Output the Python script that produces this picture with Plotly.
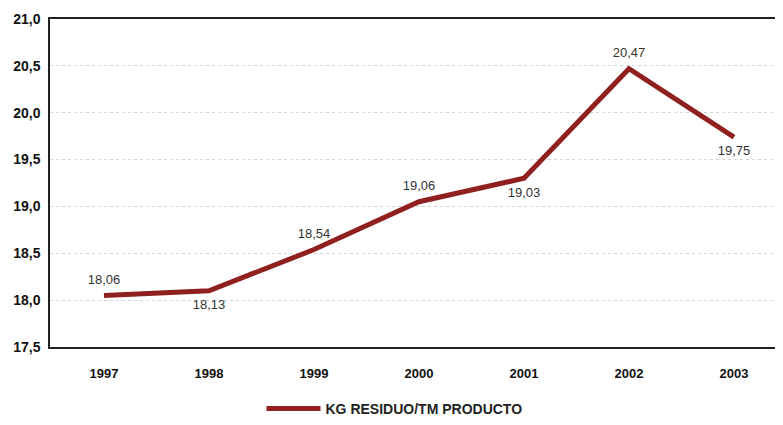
import plotly.graph_objects as go

years = ["1997", "1998", "1999", "2000", "2001", "2002", "2003"]
values = [18.05, 18.10, 18.54, 19.05, 19.30, 20.47, 19.74]
labels = ["18,06", "18,13", "18,54", "19,06", "19,03", "20,47", "19,75"]
label_pos = ["top center", "bottom center", "top center", "top center",
             "bottom center", "top center", "bottom center"]
y_ticks = [17.5, 18.0, 18.5, 19.0, 19.5, 20.0, 20.5, 21.0]
y_tick_text = ["17,5", "18,0", "18,5", "19,0", "19,5", "20,0", "20,5", "21,0"]
series_name = "KG RESIDUO/TM PRODUCTO"

xs = list(range(len(years)))

fig = go.Figure()
fig.add_trace(go.Scatter(
    x=xs, y=values, mode="lines+markers+text", name="<b>%s</b>" % series_name,
    line=dict(color="#902020", width=5),
    marker=dict(size=12, color="rgba(0,0,0,0)"),
    text=labels, textposition=label_pos,
    textfont=dict(family="Liberation Sans, Arial", size=13, color="#333333"),
    cliponaxis=False,
))

fig.update_layout(
    width=775, height=417,
    margin=dict(l=42, r=0, t=11, b=75),
    paper_bgcolor="white", plot_bgcolor="white",
    showlegend=True,
    legend=dict(orientation="h", x=0.47, xanchor="center", y=-0.19, yanchor="middle",
                font=dict(family="Liberation Sans, Arial", size=14, color="#222222"),
                itemwidth=54, bgcolor="rgba(0,0,0,0)"),
    font=dict(family="Liberation Sans, Arial", color="#111111"),
)
fig.update_xaxes(
    range=[-0.514, 6.467], tickvals=xs, ticktext=["<b>%s</b>" % y for y in years],
    tickfont=dict(size=13, color="#111111"),
    showgrid=False, zeroline=False,
    showline=True, linecolor="#222222", linewidth=1.5, mirror=True,
    ticks="", ticklabelstandoff=14,
)
fig.update_yaxes(
    range=[17.5, 21.0], tickvals=y_ticks, ticktext=["<b>%s</b>" % t for t in y_tick_text],
    tickfont=dict(size=14, color="#111111"),
    showgrid=True, gridcolor="#d4d4d4", griddash="dot", gridwidth=1,
    zeroline=False, showline=True, linecolor="#222222", linewidth=1.5,
    ticks="", ticklabelstandoff=5,
)

fig.write_html("out.html")
